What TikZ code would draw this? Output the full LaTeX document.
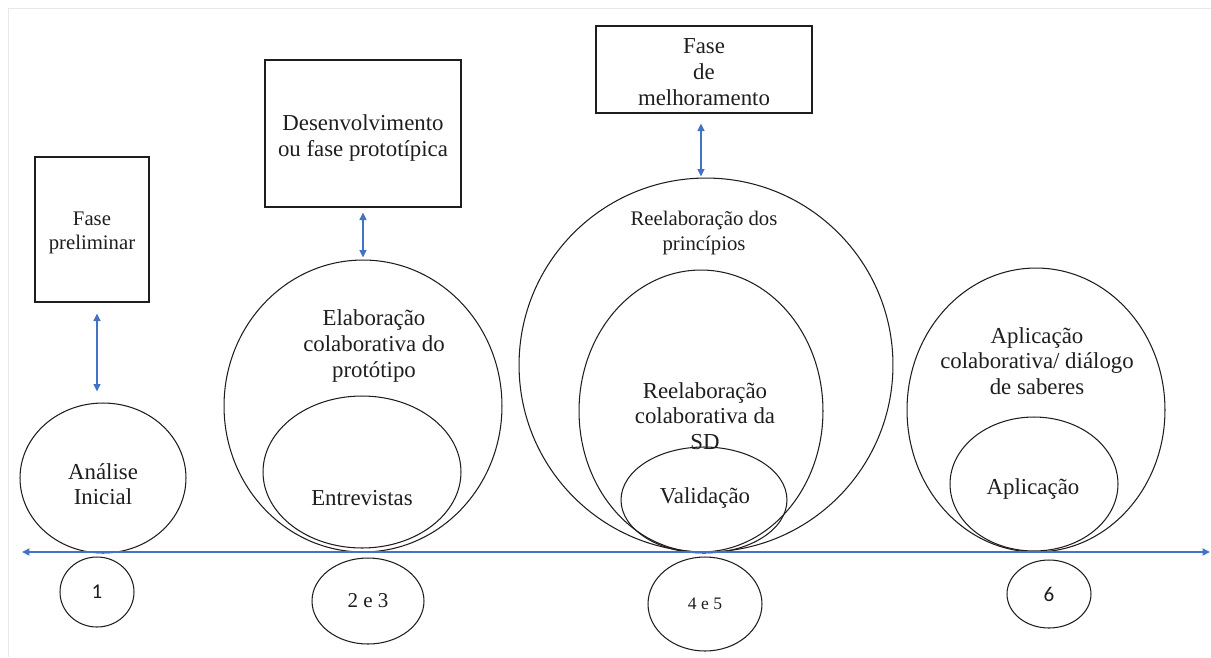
\documentclass[tikz,border=0pt]{standalone}
\usepackage{fontspec}
\setmainfont{Liberation Serif}
\newfontfamily\numfont{Carlito}
\usetikzlibrary{arrows.meta, shapes.geometric}
\definecolor{inkcol}{RGB}{30,30,30}
\definecolor{linkcol}{RGB}{68,114,196}
\definecolor{framecol}{RGB}{232,232,232}
\tikzset{
  phasebox/.style={draw=inkcol, line width=0.6pt, inner sep=0pt},
  stage/.style={draw=inkcol, ellipse, line width=0.6pt, inner sep=0pt},
  stagetxt/.style={align=center, inner sep=0pt, text=inkcol},
  bigfont/.style={font=\fontsize{13}{14.6}\selectfont},
  smallfont/.style={font=\fontsize{11.8}{13.8}\selectfont},
  link/.style={linkcol, line width=0.7pt,
    {Triangle[length=1.5mm, width=1.4mm]}-{Triangle[length=1.5mm, width=1.4mm]}}
}

\begin{document}
\begin{tikzpicture}[x=0.02cm, y=-0.02cm]
  \useasboundingbox (0,0) rectangle (1211,657);

  % --- faint page frame ----------------------------------------------------
  \draw[framecol, line width=0.5pt] (8,657) -- (8,8) -- (1211,8);

  % --- coordinates -------------------------------------------------------
  \coordinate (TimeL) at (22,552);
  \coordinate (TimeR) at (1210,552);

  % --- stage 1: preliminary phase ----------------------------------------
  \node[phasebox, minimum width=2.28cm, minimum height=2.9cm] (prelim) at (92,229.5) {};
  \node[stagetxt, smallfont] (prelimTxt) at (92,233) {Fase\\preliminar};
  \node[stage, minimum width=3.32cm, minimum height=3.0cm] (analise) at (103,478) {};
  \node[stagetxt, bigfont] (analiseTxt) at (103,484) {Análise\\Inicial};
  \node[stage, minimum width=1.48cm, minimum height=1.4cm] (num1) at (97,592) {};
  \node[stagetxt, font=\numfont\fontsize{12}{14}\selectfont] (num1Txt) at (97,592) {1};

  % --- stage 2: prototyping phase ----------------------------------------
  \node[phasebox, minimum width=3.92cm, minimum height=2.94cm] (desenv) at (363,133.5) {};
  \node[stagetxt, bigfont] (desenvTxt) at (363,138) {Desenvolvimento\\ou fase prototípica};
  \node[stage, minimum width=5.56cm, minimum height=5.84cm] (elab) at (363,406) {};
  \node[stage, minimum width=3.96cm, minimum height=3.04cm] (entrev) at (362,472) {};
  \node[stagetxt, bigfont] (elabTxt) at (374,346) {Elaboração\\colaborativa do\\protótipo};
  \node[stagetxt, bigfont] (entrevTxt) at (362,498) {Entrevistas};
  \node[stage, minimum width=2.24cm, minimum height=1.72cm] (num23) at (368,601) {};
  \node[stagetxt, font=\fontsize{12}{14}\selectfont] (num23Txt) at (368,601) {2 e 3};

  % --- stage 3: improvement phase ----------------------------------------
  \node[phasebox, minimum width=4.32cm, minimum height=1.74cm] (melhor) at (704,69.5) {};
  \node[stagetxt, bigfont] (melhorTxt) at (704,72) {Fase\\de\\melhoramento};
  \node[stage, minimum width=7.48cm, minimum height=7.48cm] (princ) at (706,365) {};
  \node[stage, minimum width=4.88cm, minimum height=5.64cm] (reelab) at (701,411) {};
  \node[stage, minimum width=3.32cm, minimum height=2.12cm] (valid) at (704,500) {};
  \node[stagetxt, smallfont] (princTxt) at (704,233) {Reelaboração dos\\princípios};
  \node[stagetxt, bigfont] (reelabTxt) at (705,416) {Reelaboração\\colaborativa da\\SD};
  \node[stagetxt, bigfont] (validTxt) at (705,498) {Validação};
  \node[stage, minimum width=2.28cm, minimum height=1.88cm] (num45) at (705,604) {};
  \node[stagetxt, font=\fontsize{10}{12}\selectfont] (num45Txt) at (705,604) {4 e 5};

  % --- stage 4: application ----------------------------------------------
  \node[stage, minimum width=5.16cm, minimum height=5.68cm] (aplcol) at (1036,410) {};
  \node[stage, minimum width=3.36cm, minimum height=2.68cm] (aplic) at (1034,484) {};
  \node[stagetxt, bigfont] (aplcolTxt) at (1037,361) {Aplicação\\colaborativa/ diálogo\\de saberes};
  \node[stagetxt, bigfont] (aplicTxt) at (1033,489) {Aplicação};
  \node[stage, minimum width=1.68cm, minimum height=1.36cm] (num6) at (1049,594) {};
  \node[stagetxt, font=\numfont\fontsize{12}{14}\selectfont] (num6Txt) at (1049,594) {6};

  % --- links between phase boxes and stages (kept vertical) ---------------
  \draw[link, shorten <=0.22cm, shorten >=0.22cm] (prelim.south -| num1) -- (analise.north -| num1);
  \draw[link, shorten <=0.1cm, shorten >=0.04cm] (desenv.south) -- (elab.north);
  \draw[link, shorten <=0.2cm, shorten >=0.02cm] (melhor.south -| reelab) -- (princ.north -| reelab);

  % --- time line ---------------------------------------------------------
  \draw[link, line width=1.2pt] (TimeL) -- (TimeR);

\end{tikzpicture}
\end{document}
